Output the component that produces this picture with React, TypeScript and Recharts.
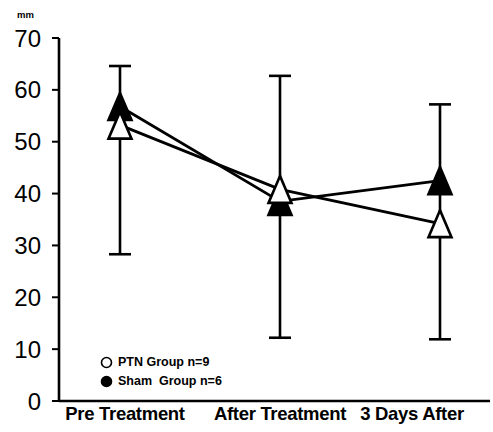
import React from 'react';
import { LineChart, Line, XAxis, YAxis, ErrorBar } from 'recharts';

const categories = ['Pre Treatment', 'After Treatment', '3 Days After'];
const ptnValues = [53.2, 40.8, 34.2];
const shamValues = [56.8, 38.5, 42.5];
const errorTop = [64.6, 62.7, 57.2];
const errorBottom = [28.3, 12.2, 11.9];
const yTicks = [0, 10, 20, 30, 40, 50, 60, 70];
const seriesNames = ['PTN Group n=9', 'Sham  Group n=6'];

const data = categories.map((name, i) => ({
  name,
  ptn: ptnValues[i],
  sham: shamValues[i],
  // asymmetric error relative to the sham point: [down, up]
  shamErr: [shamValues[i] - errorBottom[i], errorTop[i] - shamValues[i]],
}));

const FONT = '"Liberation Sans", Arial, sans-serif';

const makeTriangle = (filled: boolean) => (props: any) => {
  const { cx, cy, index } = props;
  if (cx == null || cy == null) return <g key={`t-${index}`} />;
  const w = 23;
  const h = 27;
  const pts = `${cx},${cy - h / 2} ${cx - w / 2},${cy + h / 2} ${cx + w / 2},${cy + h / 2}`;
  return (
    <polygon
      key={`t-${filled ? 's' : 'p'}-${index}`}
      points={pts}
      fill={filled ? '#000' : '#fff'}
      stroke="#000"
      strokeWidth={2.6}
      strokeLinejoin="miter"
    />
  );
};

const CategoryTick = (props: any) => {
  const { x, y, payload, index } = props;
  // last label sits a bit left of its point, first one a touch right
  const shift = index === 2 ? -28 : index === 0 ? 5 : 0;
  return (
    <text
      x={x + shift}
      y={y}
      dy={16}
      textAnchor="middle"
      fontFamily={FONT}
      fontWeight="bold"
      fontSize={18.5}
      letterSpacing={-0.3}
      fill="#000"
    >
      {payload.value}
    </text>
  );
};

const LegendBox = () => (
  <div
    style={{
      position: 'absolute',
      left: 100,
      top: 353,
      fontFamily: FONT,
      fontWeight: 'bold',
      fontSize: 12.5,
      lineHeight: '19px',
      color: '#000',
    }}
  >
    {seriesNames.map((n, i) => (
      <div key={n} style={{ display: 'flex', alignItems: 'center' }}>
        <svg width={13} height={13} style={{ marginRight: 5 }}>
          <circle cx={6.5} cy={6.5} r={5} fill={i === 0 ? '#fff' : '#000'} stroke="#000" strokeWidth={1.6} />
        </svg>
        <span style={{ whiteSpace: 'pre' }}>{n}</span>
      </div>
    ))}
  </div>
);

export default function App() {
  return (
    <div style={{ position: 'absolute', left: 0, top: 0, width: 493, height: 432, background: '#fff' }}>
      <LineChart width={493} height={432} data={data} margin={{ top: 38, right: 3, bottom: 0, left: 0 }}>
        <XAxis
          dataKey="name"
          padding={{ left: 61, right: 50 }}
          axisLine={{ stroke: '#000', strokeWidth: 2.6 }}
          tickLine={false}
          tickSize={0}
          tickMargin={3}
          height={31}
          interval={0}
          tick={<CategoryTick />}
        />
        <YAxis
          domain={[0, 70]}
          ticks={yTicks}
          width={59}
          axisLine={{ stroke: '#000', strokeWidth: 2.6 }}
          tickLine={{ stroke: '#000', strokeWidth: 2 }}
          tickSize={7}
          tickMargin={11}
          tick={{ fill: '#000', fontSize: 24, fontFamily: FONT }}
        />
        <Line
          dataKey="sham"
          name={seriesNames[1]}
          stroke="#000"
          strokeWidth={2.8}
          isAnimationActive={false}
          dot={makeTriangle(true)}
          activeDot={false}
        >
          <ErrorBar dataKey="shamErr" direction="y" width={11} stroke="#000" strokeWidth={2.6} />
        </Line>
        <Line
          dataKey="ptn"
          name={seriesNames[0]}
          stroke="#000"
          strokeWidth={2.8}
          isAnimationActive={false}
          dot={makeTriangle(false)}
          activeDot={false}
        />
      </LineChart>
      <div
        style={{
          position: 'absolute',
          left: 17,
          top: 9,
          fontFamily: FONT,
          fontSize: 9.5,
          fontWeight: 'bold',
          color: '#000',
        }}
      >
        mm
      </div>
      <LegendBox />
    </div>
  );
}
